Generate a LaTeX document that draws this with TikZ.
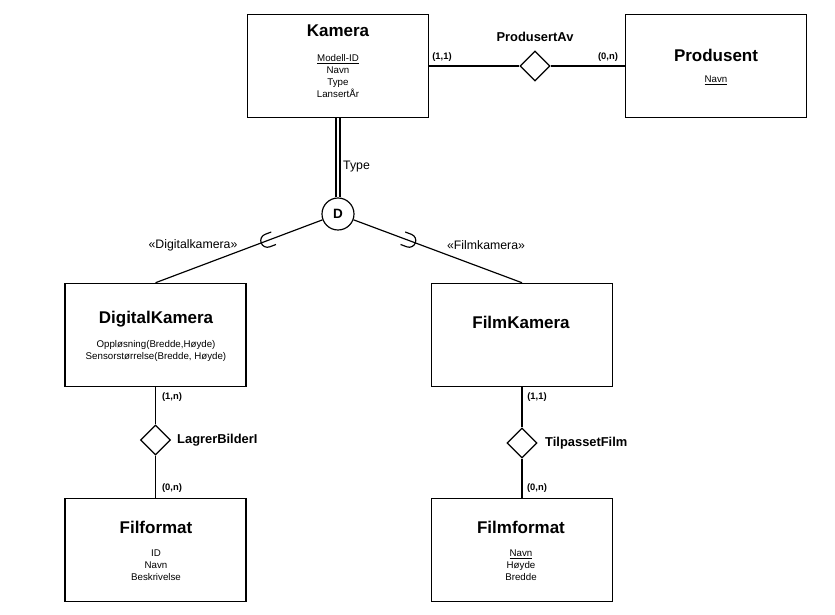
\documentclass[tikz,border=0pt]{standalone}
\usepackage{fontspec}
\setmainfont{Liberation Sans}
\usetikzlibrary{positioning,shapes.geometric,decorations.markings}

\tikzset{
	entity/.style={draw, line width=1pt, minimum width=5.43cm, minimum height=3.1cm, inner sep=0pt},
	relation/.style={draw, diamond, aspect=1, line width=1pt, minimum size=0.9cm, inner sep=0pt, fill=white},
	title/.style={font=\fontsize{14.5}{17}\selectfont\bfseries, inner sep=0pt},
	attrs/.style={font=\fontsize{8.3}{10}\selectfont, align=center, inner sep=0pt},
	rellabel/.style={font=\fontsize{11}{13}\selectfont\bfseries, inner sep=0pt},
	card/.style={font=\fontsize{8}{9}\selectfont\bfseries, inner sep=0pt},
	rolle/.style={font=\fontsize{10.5}{12}\selectfont, inner sep=0pt},
	conn/.style={line width=1pt},
	subset/.style={postaction={decorate}, decoration={markings, mark=at position #1 with {\draw[line width=1pt] (-0.2cm,0.2cm) -- (0,0.2cm) arc[start angle=90, end angle=-90, radius=0.2cm] -- (-0.2cm,-0.2cm);}}},
}

\begin{document}
\begin{tikzpicture}[x=0.03cm, y=-0.03cm]
	\useasboundingbox (0,0) rectangle (835,615);

	% Kamera og Produsent
	\node[entity] (kamera) at (338,66) {};
	\node[title] (kameraT) at (338,31) {Kamera};
	\node[attrs] (kameraA) at (338,76) {\underline{Modell-ID}\\Navn\\Type\\LansertÅr};

	\node[entity] (produsent) at (716,66) {};
	\node[title] (produsentT) at (716,55) {Produsent};
	\node[attrs] (produsentA) at (716,80) {\underline{Navn}};

	\node[relation] (prodAv) at (535,66) {};
	\node[rellabel] (prodAvT) at (535,37) {ProdusertAv};
	\node[card] (c1) at (442,57) {(1,1)};
	\node[card] (c2) at (608,57) {(0,n)};
	\draw[conn] (kamera.east) -- (prodAv.west);
	\draw[conn] (prodAv.east) -- (produsent.west);

	% Spesialisering
	\node[circle, draw, line width=1pt, minimum size=0.96cm, inner sep=0pt, font=\fontsize{11.5}{13}\selectfont\bfseries] (disj) at (338,214) {D};
	\node[rolle, anchor=west] (typeT) at (343,167) {Type};
	\draw[line width=0.9pt, double, double distance=2.5pt] (kamera.south) -- (disj.north);

	\node[entity] (digital) at (155.5,335) {};
	\node[title] (digitalT) at (156,319) {DigitalKamera};
	\node[attrs] (digitalA) at (156,351) {Oppløsning(Bredde,Høyde)\\Sensorstørrelse(Bredde, Høyde)};

	\node[entity] (film) at (522,335) {};
	\node[title] (filmT) at (521,322) {FilmKamera};

	\draw[conn, subset=0.33] (disj) -- (digital.north);
	\draw[conn, subset=0.33] (disj) -- (film.north);
	\node[rolle] (digitalR) at (193,245) {«Digitalkamera»};
	\node[rolle] (filmR) at (486,245) {«Filmkamera»};

	% Formater
	\node[entity] (filformat) at (155.5,550) {};
	\node[title] (filformatT) at (156,527) {Filformat};
	\node[attrs] (filformatA) at (156,565) {ID\\Navn\\Beskrivelse};

	\node[entity] (filmformat) at (522,550) {};
	\node[title] (filmformatT) at (521,527) {Filmformat};
	\node[attrs] (filmformatA) at (521,565) {\underline{Navn}\\Høyde\\Bredde};

	\node[relation] (lagrer) at (155.5,440) {};
	\node[rellabel, anchor=west] (lagrerT) at (177,440) {LagrerBilderI};
	\node[card] (c3) at (172,397) {(1,n)};
	\node[card] (c4) at (172,488) {(0,n)};
	\draw[conn] (digital.south) -- (lagrer.north);
	\draw[conn] (lagrer.south) -- (filformat.north);

	\node[relation] (tilpasset) at (522,443) {};
	\node[rellabel, anchor=west] (tilpassetT) at (545,443) {TilpassetFilm};
	\node[card] (c5) at (537,397) {(1,1)};
	\node[card] (c6) at (537,488) {(0,n)};
	\draw[conn] (film.south) -- (tilpasset.north);
	\draw[conn] (tilpasset.south) -- (filmformat.north);
\end{tikzpicture}
\end{document}
